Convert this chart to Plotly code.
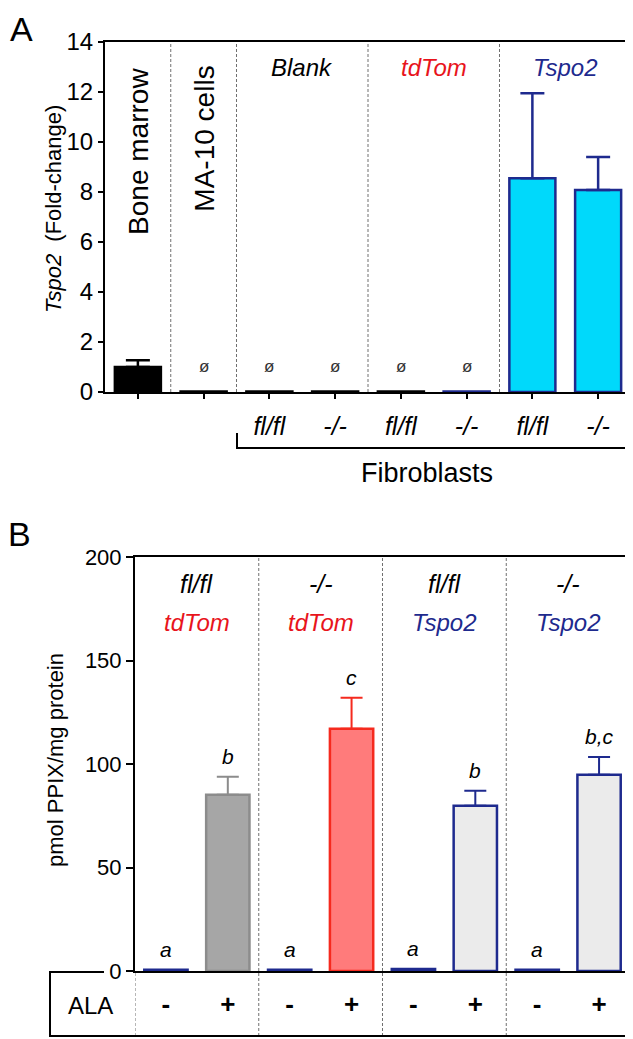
import plotly.graph_objects as go

# Panel A - Tspo2 fold change
groupsA = ['Bone marrow', 'MA-10 cells', 'Blank fl/fl', 'Blank -/-',
           'tdTom fl/fl', 'tdTom -/-', 'Tspo2 fl/fl', 'Tspo2 -/-']
tickA = ['', '', 'fl/fl', '-/-', 'fl/fl', '-/-', 'fl/fl', '-/-']
foldA = [1.0, 0.02, 0.02, 0.02, 0.02, 0.02, 8.55, 8.08]
errA = [0.27, 0, 0, 0, 0, 0, 3.4, 1.32]
markA = ['', 'ø', 'ø', 'ø', 'ø', 'ø', '', '']
headA = ['Blank', 'tdTom', 'Tspo2']

# Panel B - PPIX
groupsB = ['fl/fl tdTom -', 'fl/fl tdTom +', '-/- tdTom -', '-/- tdTom +',
           'fl/fl Tspo2 -', 'fl/fl Tspo2 +', '-/- Tspo2 -', '-/- Tspo2 +']
alaB = ['-', '+', '-', '+', '-', '+', '-', '+']
ppixB = [0.6, 85.2, 0.6, 117.0, 1.0, 79.8, 0.6, 94.8]
errB = [0, 8.6, 0, 15.0, 0, 7.3, 0, 8.6]
letterB = ['a', 'b', 'a', 'c', 'a', 'b', 'a', 'b,c']
genoB = ['fl/fl', '-/-', 'fl/fl', '-/-']
constructB = ['tdTom', 'tdTom', 'Tspo2', 'Tspo2']

# the page body has an 8px margin, so the figure is a bit smaller than the window
OFF = 8
W, H = 633 - OFF, 1039 - OFF
RED = '#E8141C'
NAVY = '#1E2A8E'
FONT = 'Arial, Liberation Sans, sans-serif'


def px(x):
    return (x - OFF) / W


def py(y):
    return 1 - (y - OFF) / H


fillA = ['black', 'black', 'black', 'black', 'black', NAVY, '#00D9FB', '#00D9FB']
lineA = ['black', 'black', 'black', 'black', 'black', NAVY, NAVY, NAVY]
fillB = [NAVY, '#A6A6A6', NAVY, '#FF7B7B', NAVY, '#EBEBEB', NAVY, '#EBEBEB']
lineB = [NAVY, '#8C8C8C', NAVY, '#F52A1E', NAVY, NAVY, NAVY, NAVY]
headColB = [RED, RED, NAVY, NAVY]
headColA = ['black', RED, NAVY]

fig = go.Figure()
for i in range(len(groupsA)):
    fig.add_trace(go.Bar(
        x=[groupsA[i]], y=[foldA[i]], width=0.7,
        marker=dict(color=fillA[i], line=dict(color=lineA[i], width=2.5)),
        error_y=dict(type='data', array=[errA[i]], arrayminus=[0], symmetric=False,
                     visible=errA[i] > 0, color=lineA[i], thickness=2.5, width=12),
        xaxis='x', yaxis='y', showlegend=False))
for i in range(len(groupsB)):
    fig.add_trace(go.Bar(
        x=[groupsB[i]], y=[ppixB[i]], width=0.7,
        marker=dict(color=fillB[i], line=dict(color=lineB[i], width=2.5)),
        error_y=dict(type='data', array=[errB[i]], arrayminus=[0], symmetric=False,
                     visible=errB[i] > 0, color=lineB[i], thickness=2, width=11),
        xaxis='x2', yaxis='y2', showlegend=False))

axis_common = dict(showline=True, linecolor='black', linewidth=2, mirror=True,
                   showgrid=False, zeroline=False, automargin=False)

fig.update_layout(
    width=W, height=H, margin=dict(l=0, r=0, t=0, b=0),
    paper_bgcolor='white', plot_bgcolor='white',
    font=dict(family=FONT, color='black'),
    xaxis=dict(domain=[px(105), px(631)], anchor='y', type='category',
               categoryorder='array', categoryarray=groupsA, range=[-0.5, 7.5],
               tickvals=groupsA, ticktext=[f'<i>{t}</i>' if t else '' for t in tickA],
               ticks='outside', ticklen=5, tickwidth=2, tickcolor='black',
               ticklabelstandoff=6, tickangle=0, tickfont=dict(size=25), **axis_common),
    yaxis=dict(domain=[py(392), py(42)], anchor='x', range=[0, 14], dtick=2,
               ticks='outside', ticklen=5, tickwidth=2, tickcolor='black',
               tickfont=dict(size=24), **axis_common),
    xaxis2=dict(domain=[px(135), px(630)], anchor='y2', type='category',
                categoryorder='array', categoryarray=groupsB, range=[-0.5, 7.5],
                tickvals=groupsB, ticktext=[f'<b>{t}</b>' for t in alaB], ticks='',
                ticklabelstandoff=9, tickangle=0, tickfont=dict(size=26), **axis_common),
    yaxis2=dict(domain=[py(971), py(557)], anchor='x2', range=[0, 200], dtick=50,
                ticks='outside', ticklen=7, tickwidth=2, tickcolor='black',
                tickfont=dict(size=22), **axis_common),
)

shapes = []
dash = dict(color='#707070', width=1, dash='3px,2px')
for b in [0.5, 1.5, 3.5, 5.5]:
    shapes.append(dict(type='line', xref='x', yref='paper', x0=b, x1=b,
                       y0=py(392), y1=py(42), line=dash, layer='below'))
for b in [1.5, 3.5, 5.5]:
    shapes.append(dict(type='line', xref='x2', yref='paper', x0=b, x1=b,
                       y0=py(1036), y1=py(557), line=dash, layer='below'))
shapes.append(dict(type='line', xref='x2', yref='paper', x0=-0.5, x1=-0.5,
                   y0=py(1036), y1=py(973), line=dash))
# Fibroblasts bracket
shapes.append(dict(type='path', xref='paper', yref='paper',
                   path=f'M {px(237)},{py(433)} L {px(237)},{py(448)} L {px(631)},{py(448)} L {px(631)},{py(433)}',
                   line=dict(color='black', width=2)))
# ALA table frame
shapes.append(dict(type='path', xref='paper', yref='paper',
                   path=f'M {px(104)},{py(972)} L {px(50)},{py(972)} L {px(50)},{py(1036)} '
                        f'L {px(631)},{py(1036)} L {px(631)},{py(971)}',
                   line=dict(color='black', width=2)))
fig.update_layout(shapes=shapes)

ann = []


def note(text, x, y, xref='paper', yref='paper', **kw):
    d = dict(text=text, x=x, y=y, xref=xref, yref=yref, showarrow=False,
             xanchor='center', yanchor='middle')
    d.update(kw)
    ann.append(d)


note('A', px(21), 1, yanchor='top', font=dict(size=34))
note('B', px(20), py(534), font=dict(size=34))
note('<i>Tspo2</i>\u00a0 (Fold-change)', px(53), py(209), textangle=-90, font=dict(size=22))
note('pmol PPIX/mg protein', px(55), py(760), textangle=-90, font=dict(size=22))
note('Bone marrow', 0, py(151), xref='x', textangle=-90, font=dict(size=28))
note('MA-10 cells', 1, py(139), xref='x', textangle=-90, font=dict(size=28))
for k, h in enumerate(headA):
    note(f'<i>{h}</i>', 2.5 + 2 * k, py(67), xref='x', font=dict(size=24, color=headColA[k]))
note('Fibroblasts', px(427), py(473), font=dict(size=27))
for i, m in enumerate(markA):
    if m:
        note(m, groupsA[i], foldA[i] + errA[i], xref='x', yref='y', yshift=25,
             font=dict(size=17, color='#333'))
for i, l in enumerate(letterB):
    note(f'<i>{l}</i>', groupsB[i], ppixB[i] + errB[i], xref='x2', yref='y2', yshift=20,
         font=dict(size=21))
for k in range(len(genoB)):
    note(f'<i>{genoB[k]}</i>', 0.5 + 2 * k, py(584), xref='x2', font=dict(size=25))
    note(f'<i>{constructB[k]}</i>', 0.5 + 2 * k, py(622), xref='x2',
         font=dict(size=24, color=headColB[k]))
note('ALA', px(90), py(1005), font=dict(size=24))
fig.update_layout(annotations=ann)

fig.write_html('out.html')
